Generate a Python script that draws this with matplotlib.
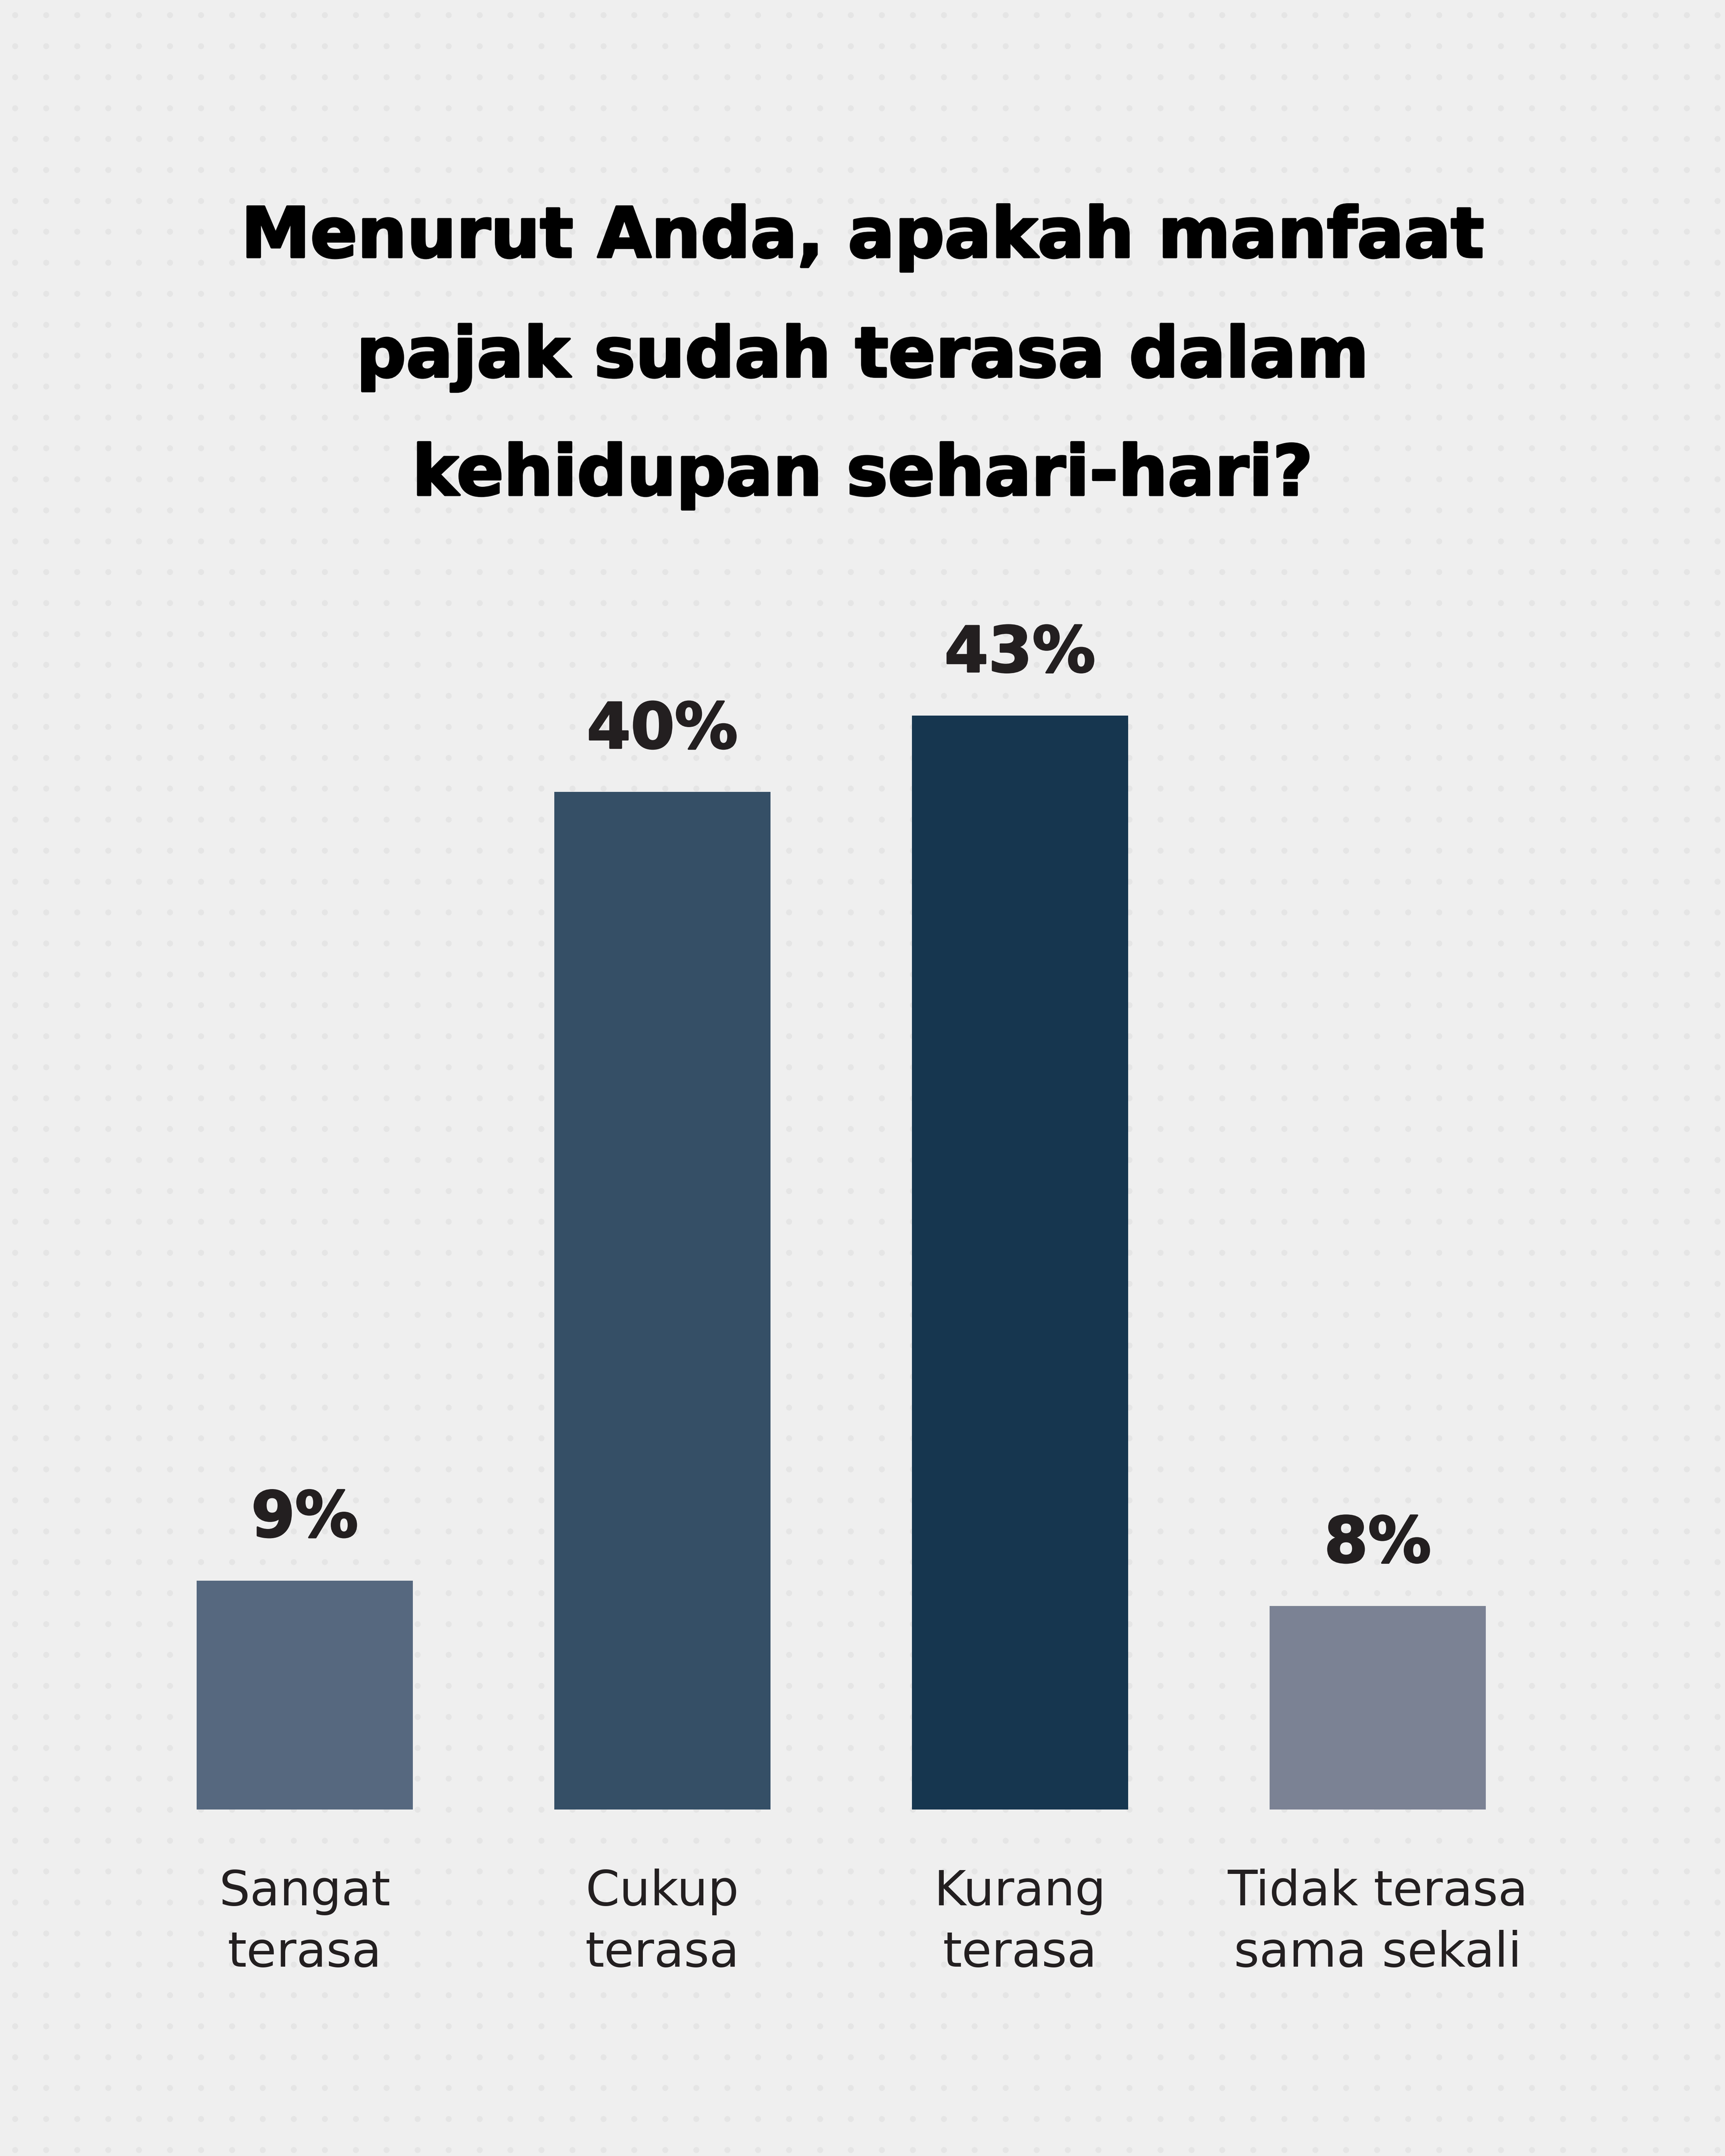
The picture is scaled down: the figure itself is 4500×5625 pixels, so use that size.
import matplotlib
matplotlib.use("Agg")
import matplotlib.pyplot as plt
import matplotlib.patheffects as pe
import numpy as np

title_lines = ["Menurut Anda, apakah manfaat", "pajak sudah terasa dalam", "kehidupan sehari-hari?"]
categories = ["Sangat\nterasa", "Cukup\nterasa", "Kurang\nterasa", "Tidak terasa\nsama sekali"]
values = [9, 40, 43, 8]
colors = ["#56687f", "#354f66", "#16364f", "#7b8294"]

W, H = 1254, 1568  # reference layout units
fig = plt.figure(figsize=(15, 18.75), dpi=300)
fig.patch.set_facecolor("#efefef")

# faint decorative dot grid
bg = fig.add_axes([0, 0, 1, 1], zorder=0)
bg.set_xlim(0, W); bg.set_ylim(H, 0); bg.axis("off")
gx, gy = np.meshgrid(np.arange(11, W, 22.5), np.arange(11, H, 22.5))
bg.scatter(gx.ravel(), gy.ravel(), s=14, color="#e5e5e5", linewidths=0)

title_base = [187, 274, 360]
for line, yb in zip(title_lines, title_base):
    fig.text(627 / W, 1 - yb / H, line, ha="center", va="baseline",
             fontsize=43.5, fontweight="bold", family="DejaVu Sans", color="#000000",
             path_effects=[pe.withStroke(linewidth=1.4, foreground="#000000")])

ax = fig.add_axes([91.5 / W, 1 - 1316 / H, 1040 / W, (50 * 18.5) / H], zorder=1)
ax.set_facecolor("none")
x = np.arange(len(values))
bars = ax.bar(x, values, width=157 / 260, color=colors)
ax.set_xlim(-0.5, len(values) - 0.5)
ax.set_ylim(0, 50)
ax.axis("off")

for xi, v in zip(x, values):
    ax.annotate(f"{v}%", (xi, v), xytext=(0, 27.5), textcoords="offset points",
                ha="center", va="baseline", fontsize=39.5, fontweight="bold",
                family="DejaVu Sans", color="#231f20",
                path_effects=[pe.withStroke(linewidth=1.0, foreground="#231f20")])

for xi, c in zip(x, categories):
    for k, part in enumerate(c.split("\n")):
        ax.annotate(part, (xi, 0), xytext=(0, -60 - 38.4 * k), textcoords="offset points",
                    ha="center", va="baseline", fontsize=30.5, family="DejaVu Sans",
                    color="#231f20")

fig.savefig("out.png", dpi=300, facecolor=fig.get_facecolor())
